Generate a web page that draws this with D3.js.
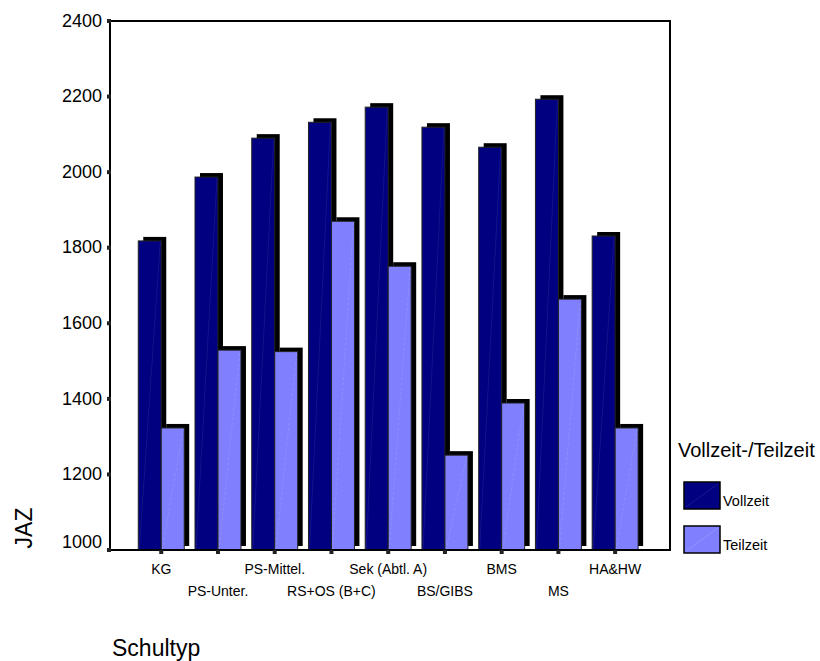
<!DOCTYPE html>
<html>
<head>
<meta charset="utf-8">
<script src="https://cdn.jsdelivr.net/npm/d3@7"></script>
<style>
  html, body { margin: 0; padding: 0; background: #fff; }
  svg { display: block; font-family: "Liberation Sans", Arial, sans-serif; }
</style>
</head>
<body>
<svg id="chart" width="820" height="661"></svg>
<script>
// Schultypen (x-axis categories)
const categories = ["KG", "PS-Unter.", "PS-Mittel.", "RS+OS (B+C)", "Sek (Abtl. A)",
                    "BS/GIBS", "BMS", "MS", "HA&HW"];
// Employment type series
const series = ["Vollzeit", "Teilzeit"];
// JAZ per school type
const vollzeit = [1818, 1987, 2090, 2132, 2172, 2119, 2066, 2193, 1831];
const teilzeit = [1323, 1529, 1525, 1870, 1751, 1251, 1389, 1664, 1323];
// y-axis ticks
const yTicks = [1000, 1200, 1400, 1600, 1800, 2000, 2200, 2400];

const colors = { Vollzeit: "#000080", Teilzeit: "#8080ff" };
const diagColors = { Vollzeit: "#3636a0", Teilzeit: "#a8a8ff" };

const svg = d3.select("#chart");
const plot = { left: 110, right: 670, top: 21, bottom: 550 };

const y = d3.scaleLinear().domain([1000, 2400]).range([plot.bottom, plot.top]);
const x0 = d3.scaleBand().domain(categories).range([plot.left, plot.right])
  .paddingInner(0.19).paddingOuter(0.53).align(0.47);
const x1 = d3.scaleBand().domain(series).range([0, x0.bandwidth()]);

const rows = categories.map((c, i) => ({
  cat: c,
  values: [{ s: "Vollzeit", v: vollzeit[i] }, { s: "Teilzeit", v: teilzeit[i] }]
}));

// Bars with an offset drop shadow
const shadowDx = 5, shadowDy = -4;
const groups = svg.append("g").selectAll("g").data(rows).join("g")
  .attr("transform", d => `translate(${x0(d.cat)},0)`);

groups.each(function (d) {
  const g = d3.select(this);
  d.values.forEach(b => {
    const bx = x1(b.s), bw = x1.bandwidth(), by = y(b.v), bh = plot.bottom - y(b.v);
    g.append("rect")
      .attr("x", bx + shadowDx).attr("y", by + shadowDy)
      .attr("width", bw).attr("height", bh)
      .attr("fill", "#000");
    g.append("rect")
      .attr("x", bx).attr("y", by)
      .attr("width", bw).attr("height", bh)
      .attr("fill", colors[b.s])
      .attr("stroke", "#222").attr("stroke-width", 1);
    g.append("line")
      .attr("x1", bx + 1).attr("y1", plot.bottom)
      .attr("x2", bx + bw - 1).attr("y2", by + 1)
      .attr("stroke", diagColors[b.s]).attr("stroke-width", 0.6)
      .attr("stroke-dasharray", b.s === "Teilzeit" ? "3,2" : null)
      .attr("opacity", 0.6);
  });
});

// Plot frame
svg.append("rect")
  .attr("x", plot.left).attr("y", plot.top)
  .attr("width", plot.right - plot.left).attr("height", plot.bottom - plot.top)
  .attr("fill", "none").attr("stroke", "#000").attr("stroke-width", 2);

// y axis ticks and labels
const yAxis = svg.append("g");
yAxis.selectAll("rect").data(yTicks).join("rect")
  .attr("x", plot.left - 3).attr("y", d => y(d) - 2)
  .attr("width", 4).attr("height", 4).attr("fill", "#222");
yAxis.selectAll("text").data(yTicks).join("text")
  .attr("x", plot.left - 8)
  .attr("y", (d, i) => y(d) + (i === 0 ? -7 : 1))
  .attr("text-anchor", "end").attr("dominant-baseline", "middle")
  .attr("font-size", 18).text(d => d);

// x axis ticks and staggered labels
const xAxis = svg.append("g");
const center = c => x0(c) + x1.bandwidth();
xAxis.selectAll("rect").data(categories).join("rect")
  .attr("x", c => center(c) - 2).attr("y", plot.bottom)
  .attr("width", 4).attr("height", 4).attr("fill", "#222");
xAxis.selectAll("text").data(categories).join("text")
  .attr("x", c => center(c))
  .attr("y", (c, i) => i % 2 === 0 ? 570 : 592)
  .attr("text-anchor", "middle").attr("dominant-baseline", "middle")
  .attr("font-size", 14).text(c => c);

// Axis titles
svg.append("text")
  .attr("transform", "translate(26,528) rotate(-90)")
  .attr("text-anchor", "middle").attr("dominant-baseline", "middle")
  .attr("font-size", 23).text("JAZ");
svg.append("text")
  .attr("x", 112).attr("y", 650)
  .attr("dominant-baseline", "middle")
  .attr("font-size", 23).text("Schultyp");

// Legend
const legend = svg.append("g");
legend.append("text")
  .attr("x", 678).attr("y", 452)
  .attr("dominant-baseline", "middle")
  .attr("font-size", 20).text("Vollzeit-/Teilzeit");
const items = legend.selectAll("g").data(series).join("g")
  .attr("transform", (d, i) => `translate(684,${482 + i * 44})`);
items.append("rect")
  .attr("width", 36).attr("height", 27)
  .attr("fill", d => colors[d]).attr("stroke", "#000").attr("stroke-width", 1.5);
items.append("line")
  .attr("x1", 2).attr("y1", 25).attr("x2", 34).attr("y2", 2)
  .attr("stroke", d => diagColors[d]).attr("stroke-width", 0.6).attr("opacity", 0.8);
items.append("text")
  .attr("x", 39).attr("y", 20)
  .attr("dominant-baseline", "middle")
  .attr("font-size", 14.5).text(d => d);
</script>
</body>
</html>
